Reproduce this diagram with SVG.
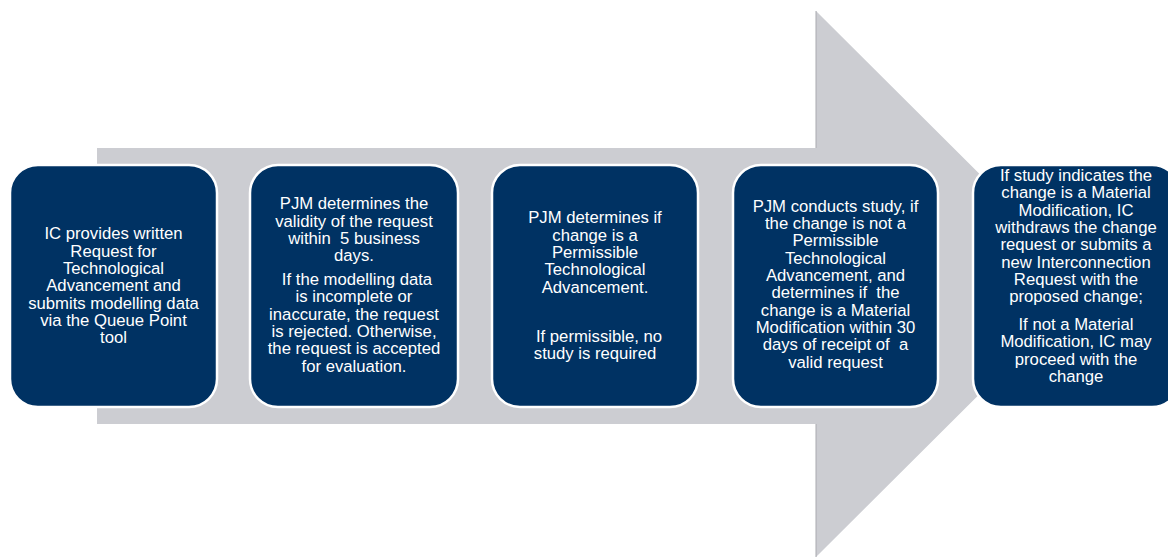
<svg xmlns="http://www.w3.org/2000/svg" width="1168" height="558" viewBox="0 0 1168 558">
<style>
.box{fill:#003263;stroke:#ffffff;stroke-width:2.5}
.t{font-family:"Liberation Sans",Arial,sans-serif;font-size:16.7px;fill:#ffffff;text-anchor:middle}
</style>
<rect width="1168" height="558" fill="#ffffff"/>
<g id="arrow">
<path d="M97 148 H816 V11 L1090 284 L816 557 V424 H97 Z" fill="#cccdd2"/>
<path d="M816 148 V11 M816 424 V557" stroke="#a9aaaf" stroke-width="1" fill="none"/>
</g>
<g id="connectors"></g>
<g id="step1">
<rect class="box" x="10" y="165" width="207" height="242" rx="28"/>
<text class="t" x="113.5"><tspan x="113.5" y="239.3">IC provides written</tspan><tspan x="113.5" y="256.6">Request for</tspan><tspan x="113.5" y="274">Technological</tspan><tspan x="113.5" y="291.3">Advancement and</tspan><tspan x="113.5" y="308.6">submits modelling data</tspan><tspan x="113.5" y="326">via the Queue Point</tspan><tspan x="113.5" y="343.3">tool</tspan></text>
</g>
<g id="step2">
<rect class="box" x="250" y="165" width="208" height="242" rx="28"/>
<text class="t" xml:space="preserve"><tspan x="354" y="209.3">PJM determines the</tspan><tspan x="354" y="226.6">validity of the request</tspan><tspan x="354" y="244">within  5 business</tspan><tspan x="354" y="261.3">days.</tspan><tspan x="357" y="285">If the modelling data</tspan><tspan x="354" y="302.3">is incomplete or</tspan><tspan x="354" y="319.6">inaccurate, the request</tspan><tspan x="354" y="337">is rejected. Otherwise,</tspan><tspan x="354" y="354.3">the request is accepted</tspan><tspan x="354" y="371.6">for evaluation.</tspan></text>
</g>
<g id="step3">
<rect class="box" x="492" y="165" width="206" height="242" rx="28"/>
<text class="t"><tspan x="595" y="223.3">PJM determines if</tspan><tspan x="595" y="240.6">change is a</tspan><tspan x="595" y="258">Permissible</tspan><tspan x="595" y="275.3">Technological</tspan><tspan x="595" y="292.6">Advancement.</tspan><tspan x="599" y="341.7">If permissible, no</tspan><tspan x="595" y="359">study is required</tspan></text>
</g>
<g id="step4">
<rect class="box" x="733" y="165" width="205" height="242" rx="28"/>
<text class="t" xml:space="preserve"><tspan x="835.5" y="211.7">PJM conducts study, if</tspan><tspan x="835.5" y="229">the change is not a</tspan><tspan x="835.5" y="246.4">Permissible</tspan><tspan x="835.5" y="263.7">Technological</tspan><tspan x="835.5" y="281">Advancement, and</tspan><tspan x="835.5" y="298.4">determines if  the</tspan><tspan x="835.5" y="315.7">change is a Material</tspan><tspan x="835.5" y="333">Modification within 30</tspan><tspan x="835.5" y="350.4">days of receipt of  a</tspan><tspan x="835.5" y="367.7">valid request</tspan></text>
</g>
<g id="step5">
<rect class="box" x="973" y="165" width="207" height="242" rx="28"/>
<text class="t"><tspan x="1076" y="181">If study indicates the</tspan><tspan x="1076" y="198.3">change is a Material</tspan><tspan x="1076" y="215.7">Modification, IC</tspan><tspan x="1076" y="233">withdraws the change</tspan><tspan x="1076" y="250.4">request or submits a</tspan><tspan x="1076" y="267.7">new Interconnection</tspan><tspan x="1076" y="285">Request with the</tspan><tspan x="1076" y="302.4">proposed change;</tspan><tspan x="1076" y="330">If not a Material</tspan><tspan x="1076" y="347.3">Modification, IC may</tspan><tspan x="1076" y="364.7">proceed with the</tspan><tspan x="1076" y="382">change</tspan></text>
</g>
</svg>
